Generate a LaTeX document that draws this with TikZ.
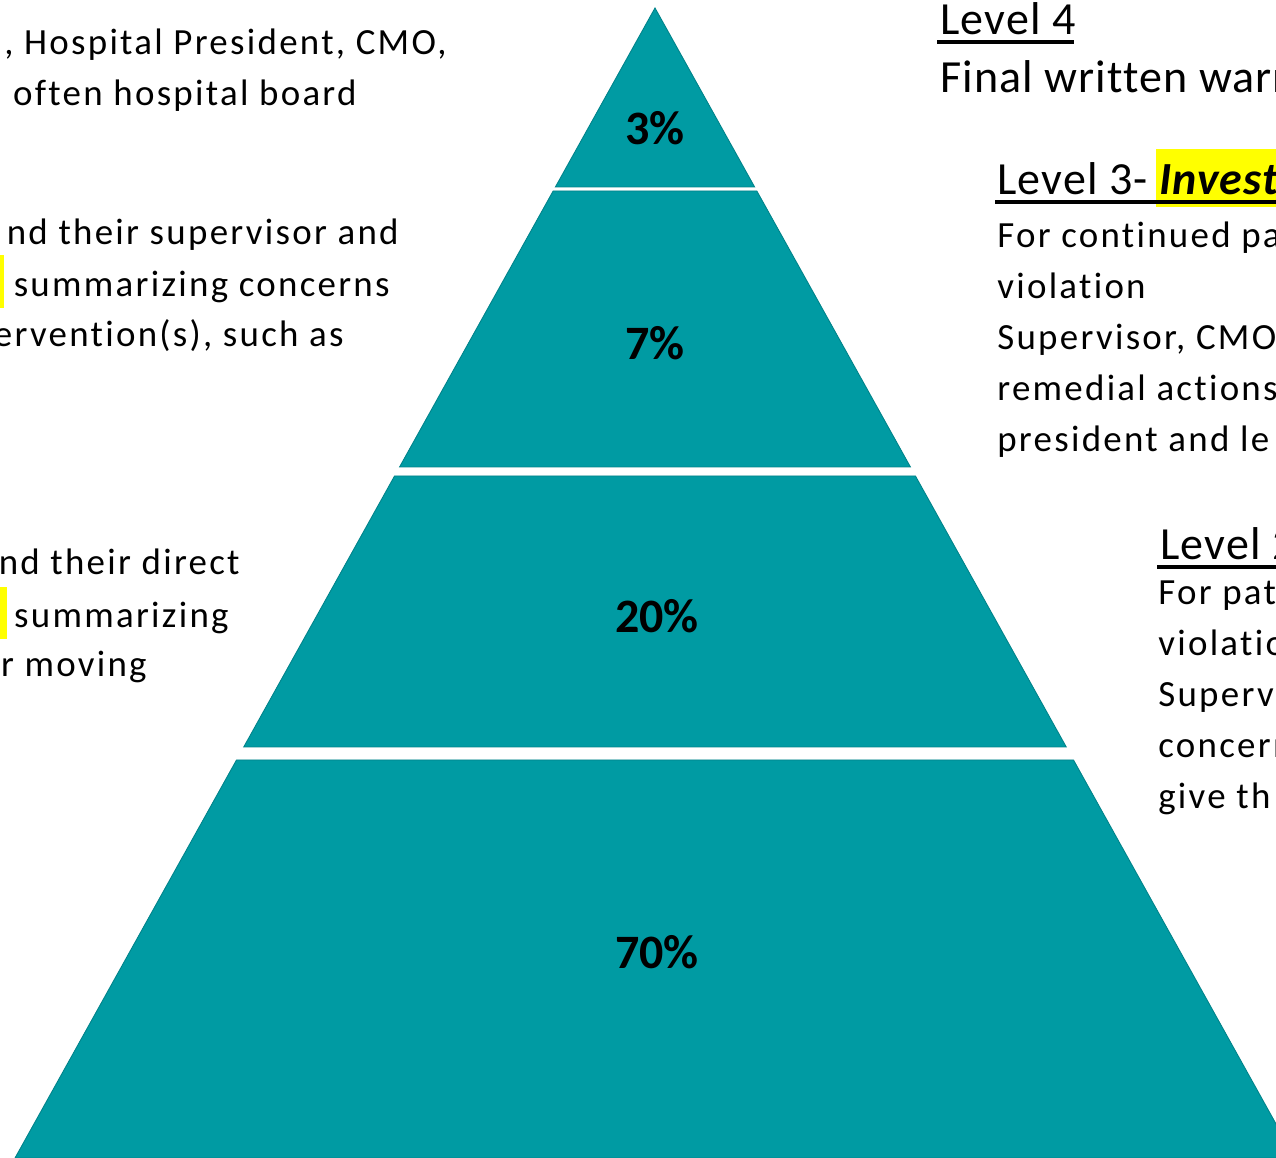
\documentclass[tikz,border=0pt]{standalone}
\usepackage{fontspec}
\setmainfont{Carlito}[Ligatures=NoCommon]
\usepackage{tikz}
\usetikzlibrary{positioning,calc}
\definecolor{pyrteal}{HTML}{009BA3}
\definecolor{pyredge}{HTML}{00838A}
\definecolor{hlyellow}{HTML}{FFFF00}

\newcommand\bodyfont{\fontsize{21}{29}\selectfont\addfontfeatures{LetterSpace=6.2}}
\newcommand\headfont{\fontsize{26.2}{33}\selectfont\addfontfeatures{LetterSpace=2.4}}
\newcommand\pctfont{\fontsize{27.3}{33}\selectfont\bfseries}

\begin{document}
\begin{tikzpicture}[x=0.02cm, y=-0.02cm,
  band/.style={fill=pyrteal, draw=pyredge, line width=0.5pt},
  pct/.style={font=\pctfont, inner sep=0pt, anchor=base},
  txt/.style={font=\bodyfont, inner sep=0pt},
  head/.style={font=\headfont, inner sep=0pt, anchor=base west},
  hl/.style={fill=hlyellow},
  ul/.style={line width=1.8pt}]
  \useasboundingbox (0,0) rectangle (1276,1158);
  \fill[white] (0,0) rectangle (1276,1158);
  \clip (0,0) rectangle (1276,1158);

  % pyramid, four bands split by white gaps
  \foreach \ya/\yb in {8/187, 191/467, 476/747, 760/1158}
    \filldraw[band] ({655-0.5565*(\ya-8)},\ya) -- ({655+0.5565*(\ya-8)},\ya)
      -- ({655+0.5565*(\yb-8)},\yb) -- ({655-0.5565*(\yb-8)},\yb) -- cycle;

  \node[pct] (p3) at (655,145) {3\%};
  \node[pct] (p7) at (655,360) {7\%};
  \node[pct] (p20) at (657,633) {20\%};
  \node[pct] (p70) at (657,969) {70\%};

  % left column
  \fill[hl] (0,255) rectangle (4,308);
  \fill[hl] (0,587) rectangle (7,639);
  \node[txt, anchor=base east] (boardA) at (447,55) {, Hospital President, CMO,};
  \node[txt, anchor=base east] (boardB) at (357,106) {often hospital board};
  \node[txt, anchor=base east] (supA) at (399,245) {nd their supervisor and};
  \node[txt, anchor=base east] (supB) at (390,297) {summarizing concerns};
  \node[txt, anchor=base east] (supC) at (344,347) {ervention(s), such as};
  \node[txt, anchor=base east] (dirA) at (240,575) {nd their direct};
  \node[txt, anchor=base east] (dirB) at (229,628) {summarizing};
  \node[txt, anchor=base east] (dirC) at (147,677) {r moving};

  % level 4
  \node[head] (lvfour) at (940,35) {Level 4};
  \draw[ul] ($(lvfour.base west)+(-3,7)$) -- ($(lvfour.base east)+(-2,7)$);
  \node[head] (warn) at (940,93) {Final written warn};

  % level 3
  \fill[hl] (1156,149) rectangle (1276,207);
  \node[head] (lvthree) at (997,195) {Level 3- {\bfseries\itshape Invest}};
  \draw[ul] ($(lvthree.base west)+(-2,7)$) -- ($(lvthree.base east)+(0,7)$);
  \node[txt, anchor=base west] (thrA) at (997,248) {For continued pa};
  \node[txt, anchor=base west] (thrB) at (997,299) {violation};
  \node[txt, anchor=base west] (thrC) at (997,350) {Supervisor, CMO};
  \node[txt, anchor=base west] (thrD) at (997,401) {remedial actions};
  \node[txt, anchor=base west] (thrE) at (997,452) {president and le};

  % level 2
  \node[head] (lvtwo) at (1160,560) {Level 2};
  \draw[ul] ($(lvtwo.base west)+(-3,7)$) -- ($(lvtwo.base east)+(0,7)$);
  \node[txt, anchor=base west] (twoA) at (1158,605) {For pat};
  \node[txt, anchor=base west] (twoB) at (1158,656) {violation};
  \node[txt, anchor=base west] (twoC) at (1158,707) {Superv};
  \node[txt, anchor=base west] (twoD) at (1158,758) {concern};
  \node[txt, anchor=base west] (twoE) at (1158,809) {give th};
\end{tikzpicture}
\end{document}
